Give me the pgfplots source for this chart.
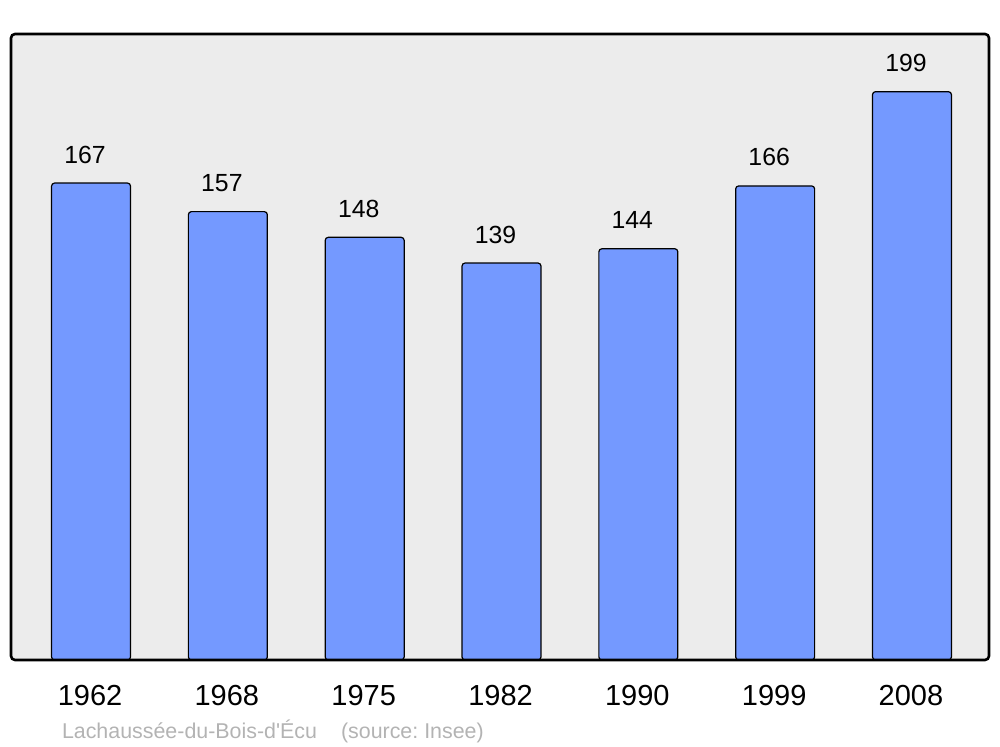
\documentclass[border=0pt]{standalone}
\usepackage{pgfplots}
\pgfplotsset{compat=1.18}
\usepackage{fontspec}
\setmainfont{Liberation Sans}
\frenchspacing
\definecolor{bgc}{HTML}{ECECEC}
\definecolor{barc}{HTML}{7499FF}
\definecolor{capc}{HTML}{B3B3B3}
\begin{document}
\begin{tikzpicture}
\path[use as bounding box] (-5.5bp,-43.5bp) rectangle (494.5bp,330bp);
\begin{axis}[
  at={(0,0)}, anchor=south west,
  scale only axis, width=489bp, height=313bp,
  xmin=-0.585, xmax=6.563, ymin=0, ymax=219.2,
  axis line style={draw=none},
  axis background/.style={fill=bgc},
  xtick=data, xticklabels={1962,1968,1975,1982,1990,1999,2008},
  ytick=\empty, major tick length=0pt,
  /pgf/number format/assume math mode=true,
  xticklabel style={font=\fontsize{14.5bp}{16bp}\selectfont, anchor=base, yshift=-22.8bp, xshift=-0.5bp},
  ybar, bar width=0.577,
  nodes near coords,
  every node near coord/.append style={font=\fontsize{12.4bp}{14bp}\selectfont, anchor=base, yshift=10bp, xshift=-3bp, inner sep=0pt},
  clip=false,
]
\addplot[fill=barc, draw=black, line width=0.6bp, rounded corners=1.5bp] coordinates {(0,167) (1,157) (2,148) (3,139) (4,144) (5,166) (6,199)};
\draw[line width=1.3bp, rounded corners=2bp] (rel axis cs:0,0) rectangle (rel axis cs:1,1);
\end{axis}
\node[anchor=base west, text=capc, font=\fontsize{10.7bp}{12bp}\selectfont, inner sep=0pt] at (25.3bp,-39bp) {Lachaussée-du-Bois-d\textquotesingle Écu\hspace{12bp}(source: Insee)};
\end{tikzpicture}
\end{document}
